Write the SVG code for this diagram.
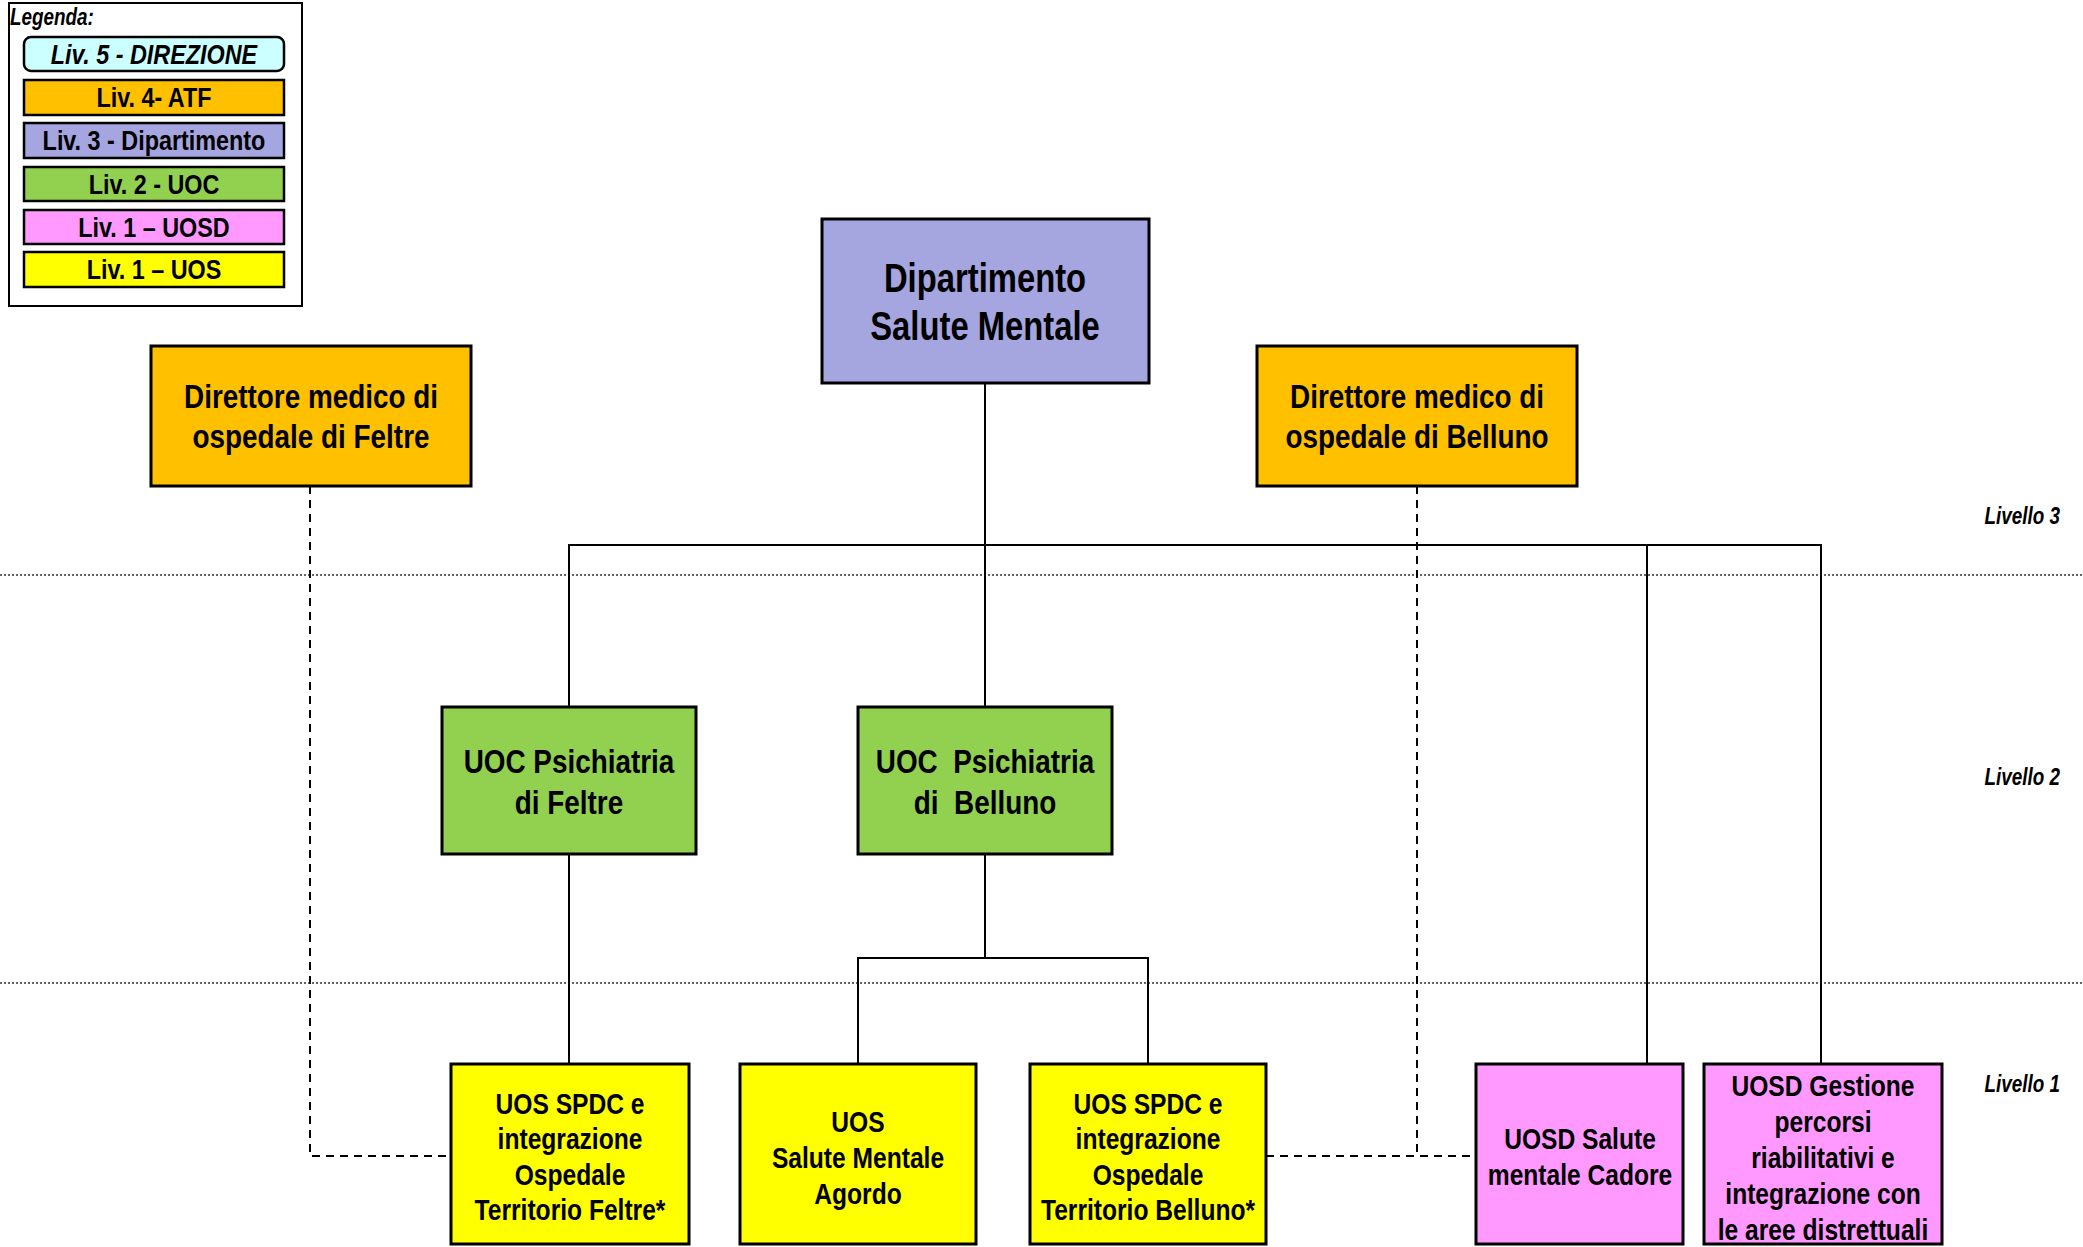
<svg xmlns="http://www.w3.org/2000/svg" width="2083" height="1247" viewBox="0 0 2083 1247">
<style>
text{font-family:'Liberation Sans',Arial,sans-serif;font-weight:bold;fill:#000;text-anchor:middle}
.box{stroke:#000;stroke-width:3}
.leg{stroke:#000;stroke-width:2.5}
.l5{fill:#CCFFFF}.l4{fill:#FFC000}.l3{fill:#A5A5E0}.l2{fill:#92D050}.l1d{fill:#FF99FF}.l1s{fill:#FFFF00}
.conn{stroke:#000;stroke-width:2;fill:none}
.dash{stroke:#000;stroke-width:2;fill:none;stroke-dasharray:8,6}
.dot{stroke:#333;stroke-width:1.5;fill:none;stroke-dasharray:2,2}
.it{font-style:italic}
.lvl{font-style:italic;font-size:23px;text-anchor:end}
.f28{font-size:28.5px}.f30{font-size:30px}.f34{font-size:34px}.f40{font-size:40px}
</style>
<rect width="2083" height="1247" fill="#fff"/>
<g id="levels">
<line class="dot" x1="0" y1="575" x2="2083" y2="575"/>
<line class="dot" x1="0" y1="983" x2="2083" y2="983"/>
<text class="lvl" transform="translate(2060 524) scale(0.82 1)">Livello 3</text>
<text class="lvl" transform="translate(2060 785) scale(0.82 1)">Livello 2</text>
<text class="lvl" transform="translate(2060 1092) scale(0.82 1)">Livello 1</text>
</g>
<g id="legend">
<rect x="9" y="3" width="293" height="303" fill="#fff" stroke="#000" stroke-width="2"/>
<text class="it" transform="translate(10 25) scale(0.82 1)" style="text-anchor:start;font-size:23px">Legenda:</text>
<rect class="leg l5" x="24" y="37" width="260" height="34" rx="7"/>
<text class="it f28" transform="translate(154 64) scale(0.82 1)">Liv. 5 - DIREZIONE</text>
<rect class="leg l4" x="24" y="80" width="260" height="35"/>
<text class="f28" transform="translate(154 107) scale(0.82 1)">Liv. 4- ATF</text>
<rect class="leg l3" x="24" y="123" width="260" height="35"/>
<text class="f28" transform="translate(154 150) scale(0.82 1)">Liv. 3 - Dipartimento</text>
<rect class="leg l2" x="24" y="167" width="260" height="34"/>
<text class="f28" transform="translate(154 194) scale(0.82 1)">Liv. 2 - UOC</text>
<rect class="leg l1d" x="24" y="210" width="260" height="34"/>
<text class="f28" transform="translate(154 237) scale(0.82 1)">Liv. 1 – UOSD</text>
<rect class="leg l1s" x="24" y="252" width="260" height="35"/>
<text class="f28" transform="translate(154 279) scale(0.82 1)">Liv. 1 – UOS</text>
</g>
<g id="connectors">
<polyline class="conn" points="985,383 985,707"/>
<polyline class="conn" points="569,707 569,545 1821,545 1821,1064"/>
<line class="conn" x1="1647" y1="545" x2="1647" y2="1064"/>
<line class="conn" x1="569" y1="854" x2="569" y2="1064"/>
<polyline class="conn" points="858,1064 858,958 1148,958 1148,1064"/>
<line class="conn" x1="985" y1="854" x2="985" y2="958"/>
<polyline class="dash" points="310,486 310,1156 451,1156"/>
<line class="dash" x1="1417" y1="486" x2="1417" y2="1156"/>
<line class="dash" x1="1266" y1="1156" x2="1476" y2="1156"/>
</g>
<g id="dipartimento">
<rect class="box l3" x="822" y="219" width="327" height="164"/>
<text class="f40" transform="translate(985 292) scale(0.82 1)">Dipartimento</text>
<text class="f40" transform="translate(985 340) scale(0.82 1)">Salute Mentale</text>
</g>
<g id="dir-feltre">
<rect class="box l4" x="151" y="346" width="320" height="140"/>
<text class="f34" transform="translate(311 408) scale(0.82 1)">Direttore medico di</text>
<text class="f34" transform="translate(311 448) scale(0.82 1)">ospedale di Feltre</text>
</g>
<g id="dir-belluno">
<rect class="box l4" x="1257" y="346" width="320" height="140"/>
<text class="f34" transform="translate(1417 408) scale(0.82 1)">Direttore medico di</text>
<text class="f34" transform="translate(1417 448) scale(0.82 1)">ospedale di Belluno</text>
</g>
<g id="uoc-feltre">
<rect class="box l2" x="442" y="707" width="254" height="147"/>
<text class="f34" transform="translate(569 773) scale(0.82 1)">UOC Psichiatria</text>
<text class="f34" transform="translate(569 814) scale(0.82 1)">di Feltre</text>
</g>
<g id="uoc-belluno">
<rect class="box l2" x="858" y="707" width="254" height="147"/>
<text class="f34" transform="translate(985 773) scale(0.82 1)" xml:space="preserve">UOC  Psichiatria</text>
<text class="f34" transform="translate(985 814) scale(0.82 1)" xml:space="preserve">di  Belluno</text>
</g>
<g id="uos-spdc-feltre">
<rect class="box l1s" x="451" y="1064" width="238" height="180"/>
<text class="f30" transform="translate(570 1114) scale(0.82 1)">UOS SPDC e</text>
<text class="f30" transform="translate(570 1149) scale(0.82 1)">integrazione</text>
<text class="f30" transform="translate(570 1185) scale(0.82 1)">Ospedale</text>
<text class="f30" transform="translate(570 1220) scale(0.82 1)">Territorio Feltre*</text>
</g>
<g id="uos-agordo">
<rect class="box l1s" x="740" y="1064" width="236" height="180"/>
<text class="f30" transform="translate(858 1132) scale(0.82 1)">UOS</text>
<text class="f30" transform="translate(858 1168) scale(0.82 1)">Salute Mentale</text>
<text class="f30" transform="translate(858 1204) scale(0.82 1)">Agordo</text>
</g>
<g id="uos-spdc-belluno">
<rect class="box l1s" x="1030" y="1064" width="236" height="180"/>
<text class="f30" transform="translate(1148 1114) scale(0.82 1)">UOS SPDC e</text>
<text class="f30" transform="translate(1148 1149) scale(0.82 1)">integrazione</text>
<text class="f30" transform="translate(1148 1185) scale(0.82 1)">Ospedale</text>
<text class="f30" transform="translate(1148 1220) scale(0.82 1)">Territorio Belluno*</text>
</g>
<g id="uosd-cadore">
<rect class="box l1d" x="1476" y="1064" width="207" height="180"/>
<text class="f30" transform="translate(1580 1149) scale(0.82 1)">UOSD Salute</text>
<text class="f30" transform="translate(1580 1185) scale(0.82 1)">mentale Cadore</text>
</g>
<g id="uosd-gestione">
<rect class="box l1d" x="1704" y="1064" width="238" height="180"/>
<text class="f30" transform="translate(1823 1096) scale(0.82 1)">UOSD Gestione</text>
<text class="f30" transform="translate(1823 1132) scale(0.82 1)">percorsi</text>
<text class="f30" transform="translate(1823 1168) scale(0.82 1)">riabilitativi e</text>
<text class="f30" transform="translate(1823 1204) scale(0.82 1)">integrazione con</text>
<text class="f30" transform="translate(1823 1240) scale(0.82 1)">le aree distrettuali</text>
</g>
</svg>
